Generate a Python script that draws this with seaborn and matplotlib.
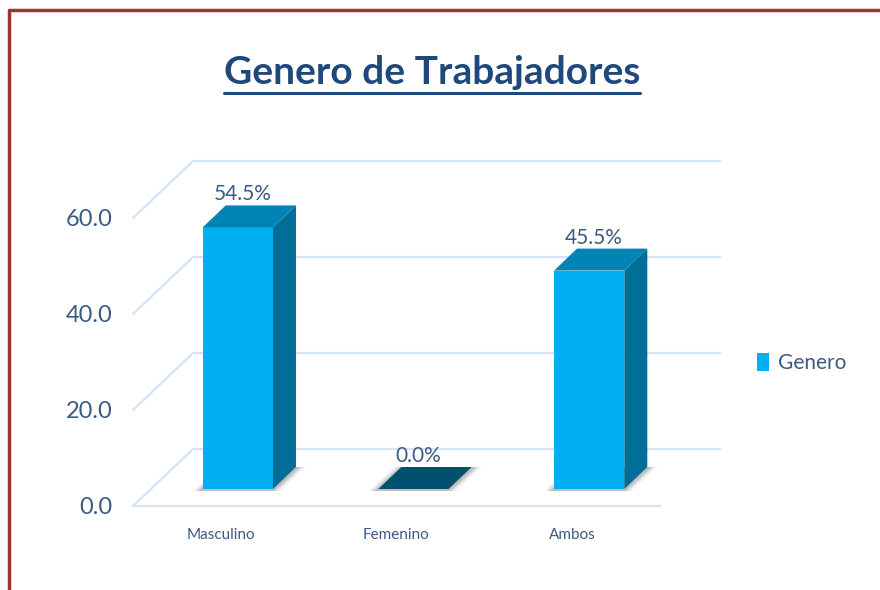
import numpy as np
import pandas as pd
import matplotlib
matplotlib.use("Agg")
import matplotlib.pyplot as plt
import matplotlib.transforms as mtransforms
from matplotlib.patches import Polygon, Patch
from matplotlib.lines import Line2D
import seaborn as sns

# data
categories = ["Masculino", "Femenino", "Ambos"]
values = [54.5, 0.0, 45.5]
value_labels = ["54.5%", "0.0%", "45.5%"]
y_ticks = [0, 20, 40, 60]
y_tick_labels = ["0.0", "20.0", "40.0", "60.0"]
series_name = "Genero"
title = "Genero de Trabajadores"

# colours
FRONT = "#00B0F0"
TOP = "#0084B6"
SIDE = "#006E96"
FLAT = "#00506F"
GRID = "#D5E2F2"
TXT = "#3C5A82"
TITLE_C = "#1F497D"
BORDER = "#9B3535"

# 3d look, in pixels
FLOOR_D = (60, 57)      # depth of the floor / back wall
BAR_OFF = (17, 17)      # bar front face offset from front plane
BAR_D = (23, 22)        # bar depth

sns.set_theme(style="white")
plt.rcParams["font.family"] = ["Lato", "DejaVu Sans"]

fig = plt.figure(figsize=(8.8, 5.9), dpi=100)
W, H = 880, 590
ax = fig.add_axes([133 / W, 84 / H, 527 / W, 288 / H])

df = pd.DataFrame({"cat": categories, "val": values})
sns.barplot(data=df, x="cat", y="val", width=0.4, color=FRONT, saturation=1,
            ax=ax, zorder=3)
ax.set_xlim(-0.5, len(categories) - 0.5)
ax.set_ylim(0, 60)
for s in ax.spines.values():
    s.set_visible(False)
ax.set_xlabel("")
ax.set_ylabel("")
ax.set_yticks(y_ticks)
ax.set_yticklabels(y_tick_labels, fontsize=17, color=TXT)
ax.tick_params(axis="y", length=0, pad=15)
ax.set_xticks(range(len(categories)))
ax.set_xticklabels(categories, fontsize=11, color=TXT)
ax.tick_params(axis="x", length=0, pad=16)
ax.patch.set_alpha(0)

ident = mtransforms.IdentityTransform()


def disp(x, v, off=(0, 0)):
    p = ax.transData.transform((x, v))
    return (p[0] + off[0], p[1] + off[1])


def add_poly(pts, color, z, alpha=1.0):
    ax.add_patch(Polygon(pts, closed=True, facecolor=color, edgecolor="none",
                         transform=ident, zorder=z, alpha=alpha, clip_on=False))


# walls / gridlines
x0, x1 = ax.get_xlim()
for v in y_ticks:
    a = disp(x0, v)
    b = disp(x0, v, FLOOR_D)
    c = disp(x1, v, FLOOR_D)
    ax.add_line(Line2D([a[0], b[0], c[0]], [a[1], b[1], c[1]], color=GRID, lw=1.6,
                       transform=ident, zorder=1, clip_on=False))
a = disp(x0, 0)
b = disp(x1, 0)
ax.add_line(Line2D([a[0], b[0]], [a[1], b[1]], color=GRID, lw=1.6,
                   transform=ident, zorder=1, clip_on=False))

# 3d bars built on the seaborn bars
shift = mtransforms.ScaledTranslation(BAR_OFF[0] / fig.dpi, BAR_OFF[1] / fig.dpi,
                                      fig.dpi_scale_trans)
back = (BAR_OFF[0] + BAR_D[0], BAR_OFF[1] + BAR_D[1])
for p, lab in zip(ax.patches, value_labels):
    bx, bw, bh = p.get_x(), p.get_width(), p.get_height()
    p.set_transform(ax.transData + shift)
    p.set_edgecolor("none")

    # soft shadow under the footprint
    for k, al in [(7, 0.06), (5, 0.08), (3, 0.12), (1, 0.18)]:
        add_poly([disp(bx, 0, (BAR_OFF[0] - k - 3, BAR_OFF[1] - 2)),
                  disp(bx + bw, 0, (BAR_OFF[0] + k, BAR_OFF[1] - 2)),
                  disp(bx + bw, 0, (back[0] + k + 3, back[1])),
                  disp(bx, 0, (back[0] - k, back[1]))], "#555555", 2, al)

    if bh > 0:
        add_poly([disp(bx + bw, 0, BAR_OFF), disp(bx + bw, 0, back),
                  disp(bx + bw, bh, back), disp(bx + bw, bh, BAR_OFF)], SIDE, 3)
        top_c = TOP
    else:
        top_c = FLAT
    add_poly([disp(bx, bh, BAR_OFF), disp(bx + bw, bh, BAR_OFF),
              disp(bx + bw, bh, back), disp(bx, bh, back)], top_c, 4)

    ax.annotate(lab, (bx + bw / 2, bh), xytext=(22, 50),
                textcoords="offset pixels", ha="center", va="center",
                fontsize=15, color=TXT, zorder=6, annotation_clip=False)

# legend
ax.legend(handles=[Patch(facecolor=FRONT, edgecolor="none")], labels=[series_name],
          loc="center left", bbox_to_anchor=(738 / W, 227 / H),
          bbox_transform=fig.transFigure, frameon=False, fontsize=15,
          labelcolor=TXT, handlelength=0.6, handleheight=1.0, handletextpad=0.4)

# title with underline
t = fig.text(432 / W, 1 - 72 / H, title, ha="center", va="center",
             fontsize=28, fontweight="bold", color=TITLE_C)
fig.canvas.draw()
bb = t.get_window_extent()
uy = bb.y0 - 3
fig.add_artist(Line2D([bb.x0, bb.x1], [uy, uy], color=TITLE_C, lw=2.2,
                      transform=ident))

# border of the slide
fig.add_artist(Line2D([8.5 / W, 8.5 / W, 1], [0, 1 - 9.5 / H, 1 - 9.5 / H],
                      color=BORDER, lw=2.5, transform=fig.transFigure))

fig.savefig("out.png", dpi=100)
